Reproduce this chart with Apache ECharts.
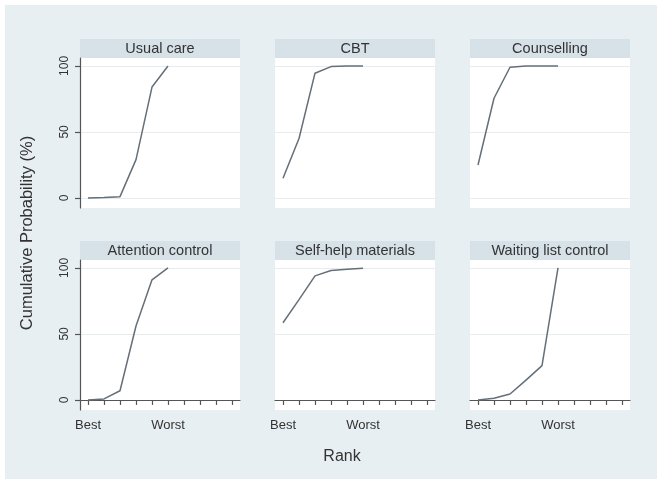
<!DOCTYPE html>
<html><head><meta charset="utf-8">
<script src="https://cdn.jsdelivr.net/npm/echarts@6/dist/echarts.min.js"></script>
<style>html,body{margin:0;padding:0;background:#fff}#c{width:657px;height:479px}</style>
</head><body><div id="c"></div>
<script>
const ranks = ['1','2','3','4','5','6','7','8','9','10'];
const rankLabels = ['Best','','','','','Worst','','','',''];
const yTicks = [0, 50, 100];
const panelTitles = ['Usual care','CBT','Counselling','Attention control','Self-help materials','Waiting list control'];
const usualCare = [0, 0.3, 1, 29, 84, 100];
const cbt = [15, 45, 94.5, 99.5, 100, 100];
const counselling = [25, 75.5, 99, 100, 100, 100];
const attentionControl = [0, 0.8, 7, 56, 91, 100];
const selfHelp = [58.5, 76, 94, 98, 99, 99.7];
const waitingList = [0, 1.3, 4.5, 15, 26, 100];
const seriesData = [usualCare, cbt, counselling, attentionControl, selfHelp, waitingList];

const colLeft = [80, 275, 470];
const rowTop = [58, 260];
const pw = 160, ph = 150, stripH = 19;
const bg = '#e8eff2', strip = '#d6e1e8', lineColor = '#646f79', txt = '#333';
const font = '"Liberation Sans", Arial, sans-serif';

const grids = [], xAxes = [], yAxes = [], series = [], graphics = [];
graphics.push({type:'rect', shape:{x:0,y:0,width:657,height:5}, style:{fill:'#fff'}, silent:true});
graphics.push({type:'rect', shape:{x:0,y:0,width:5,height:479}, style:{fill:'#fff'}, silent:true});
for (let i = 0; i < 6; i++) {
  const r = Math.floor(i / 3), c = i % 3;
  grids.push({left: colLeft[c], top: rowTop[r], width: pw, height: ph, show: true, backgroundColor: '#fff', borderWidth: 0});
  xAxes.push({
    type: 'category', gridIndex: i, data: ranks, boundaryGap: true,
    axisLine: {show: r === 1, lineStyle: {color: '#555', width: 1.2}},
    axisTick: {show: r === 1, alignWithLabel: true, length: 5, lineStyle: {color: '#555', width: 1.2}},
    axisLabel: {show: r === 1, interval: 0, margin: 9, color: txt, fontSize: 13, fontFamily: font,
      formatter: (v, idx) => rankLabels[idx]},
    splitLine: {show: false}
  });
  yAxes.push({
    type: 'value', gridIndex: i, min: -7.6, max: 106,
    axisLine: {show: c === 0, lineStyle: {color: '#555', width: 1.2}},
    axisTick: {show: c === 0, length: 5, customValues: yTicks, lineStyle: {color: '#555', width: 1.2}},
    axisLabel: {show: c === 0, customValues: yTicks, rotate: 90, margin: 9, color: txt, fontSize: 12, fontFamily: font},
    splitLine: {show: true, lineStyle: {color: '#e6edf1', width: 1}}
  });
  series.push({type: 'line', xAxisIndex: i, yAxisIndex: i, data: seriesData[i], symbol: 'none',
    lineStyle: {color: lineColor, width: 1.5}, animation: false});
  graphics.push({type: 'rect', shape: {x: colLeft[c], y: rowTop[r] - stripH, width: pw, height: stripH},
    style: {fill: strip}, silent: true});
  graphics.push({type: 'text', x: colLeft[c] + pw / 2, y: rowTop[r] - stripH / 2,
    style: {text: panelTitles[i], fill: txt, font: '14.5px ' + font, align: 'center', verticalAlign: 'middle'}, silent: true});
}
graphics.push({type: 'text', x: 342, y: 457, style: {text: 'Rank', fill: txt, font: '16px ' + font, align: 'center', verticalAlign: 'middle'}});
graphics.push({type: 'text', x: 27, y: 233, rotation: Math.PI / 2,
  style: {text: 'Cumulative Probability (%)', fill: txt, font: '16.5px ' + font, align: 'center', verticalAlign: 'middle'}});

const chart = echarts.init(document.getElementById('c'), null, {renderer: 'canvas'});
chart.setOption({
  backgroundColor: bg, animation: false,
  grid: grids, xAxis: xAxes, yAxis: yAxes, series: series, graphic: graphics
});
</script></body></html>
